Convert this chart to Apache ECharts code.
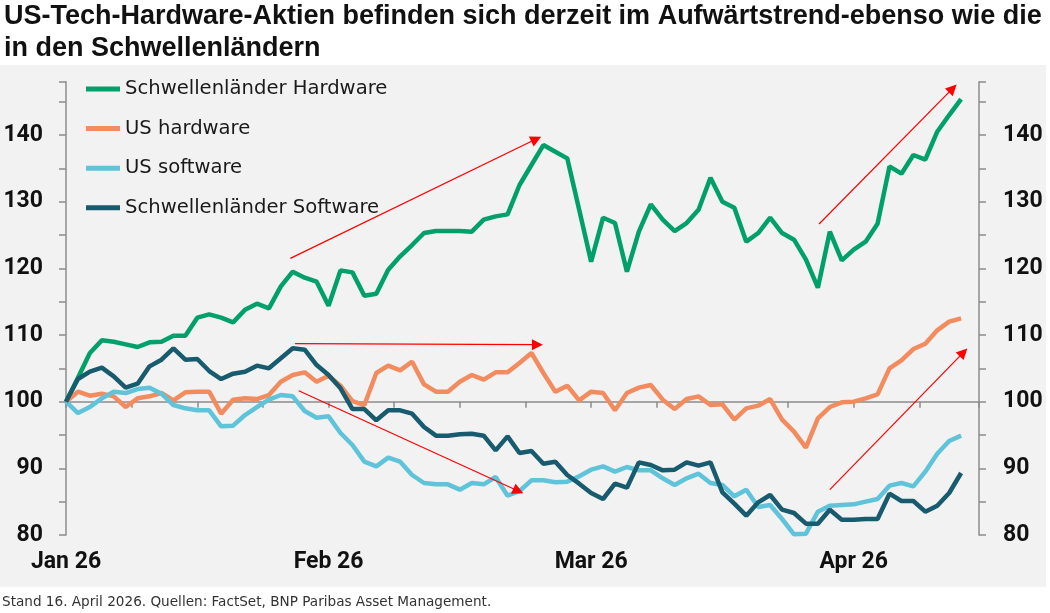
<!DOCTYPE html>
<html><head><meta charset="utf-8">
<script src="https://cdn.jsdelivr.net/npm/echarts@6/dist/echarts.min.js"></script>
<style>html,body{margin:0;padding:0;background:#fff}#c{width:1050px;height:613px}</style>
</head><body><div id="c"></div>
<script>
// ---- data (index = trading day since start of Jan 2026; 22 points per month label) ----
const monthLabels = ['Jan 26', 'Feb 26', 'Mar 26', 'Apr 26'];
const seriesNames = ['Schwellenländer Hardware', 'US hardware', 'US software', 'Schwellenländer Software'];
const emHardware = [100,103.6,107.3,109.2,109.0,108.6,108.2,108.9,109.0,109.9,109.9,112.6,113.1,112.6,111.9,113.8,114.7,114.0,117.3,119.5,
  118.6,118.0,114.4,119.7,119.4,115.9,116.2,119.8,121.8,123.5,125.3,125.6,125.6,125.6,125.5,127.3,127.8,128.1,132.5,135.5,
  138.5,137.5,136.5,128.8,121.0,127.6,126.8,119.5,125.5,129.6,127.3,125.6,126.8,128.8,133.6,130.0,129.1,124.0,125.3,127.6,
  125.3,124.3,121.3,117.1,125.5,121.2,122.8,124.0,126.7,135.3,134.2,137.0,136.3,140.5,143.0,145.4];
const usHardware = [100,101.5,100.9,101.2,100.8,99.2,100.5,100.8,101.3,100.2,101.4,101.5,101.5,98.2,100.3,100.5,100.4,101.0,103.0,104.0,
  104.4,103.0,103.9,102.4,100.1,99.5,104.3,105.4,104.7,106.0,102.6,101.5,101.5,103.0,104.0,103.3,104.4,104.4,105.8,107.3,
  104.3,101.5,102.4,100.2,101.5,101.3,98.7,101.3,102.1,102.5,100.3,98.9,100.4,100.8,99.5,99.6,97.3,99.0,99.4,100.4,
  97.3,95.5,93.1,97.5,99.2,99.9,100.0,100.5,101.1,105.0,106.2,107.9,108.7,110.7,112.0,112.5];
const usSoftware = [100,98.3,99.2,100.5,101.5,101.3,101.9,102.1,101.2,99.5,99.0,98.7,98.7,96.3,96.4,98.0,99.2,100.3,101.0,100.8,
  98.6,97.6,97.8,95.3,93.5,91.0,90.3,91.6,91.0,89.0,87.8,87.6,87.6,86.8,87.8,87.6,88.7,85.9,86.6,88.2,
  88.2,87.9,88.0,88.8,89.8,90.3,89.5,90.2,89.7,89.7,88.5,87.5,88.5,89.2,87.8,87.5,85.8,86.8,84.2,84.5,
  82.4,80.1,80.2,83.5,84.4,84.5,84.6,85.0,85.4,87.4,87.8,87.3,89.5,92.2,94.1,94.9];
const emSoftware = [100,103.4,104.5,105.1,103.8,102.1,102.7,105.3,106.3,108.0,106.3,106.4,104.6,103.4,104.2,104.5,105.4,105.0,106.5,108.0,
  107.8,105.5,104.0,102.0,98.9,98.9,97.2,98.7,98.7,98.2,96.2,94.9,94.9,95.1,95.2,94.9,92.7,94.8,92.3,92.6,
  90.7,91.0,89.0,87.7,86.3,85.4,87.7,87.1,90.9,90.5,89.7,89.8,90.9,90.4,90.9,86.4,84.7,82.9,84.9,86.0,
  83.8,83.3,81.7,81.7,83.8,82.3,82.3,82.4,82.4,86.2,85.1,85.1,83.5,84.4,86.3,89.3];
// red trend arrows, [start, end] in data units (x = day index, y = index value)
const arrows = [
  [[18.8, 121.5], [39.4, 139.4]],
  [[19.2, 108.7], [39.5, 108.55]],
  [[19.5, 101.65], [37.9, 86.6]],
  [[63.1, 126.65], [74.3, 147.0]],
  [[64.0, 86.8], [75.2, 107.4]]
];

// ---- layout / style ----
const PER_MONTH = 22, X_MAX = 76.5, Y_MIN = 80, Y_MAX = 148, BASE = 100;
const GRID = { left: 66, right: 71, top: 81.7, bottom: 78 };
const gridH = 613 - GRID.top - GRID.bottom;
const baseOffset = -(BASE - Y_MIN) / (Y_MAX - Y_MIN) * gridH;
const colors = ['#00a06b', '#f28b5e', '#5fc3da', '#185a6e'];
const axisColor = '#8c8c8c';
const labelFont = { fontFamily: 'Roboto', fontSize: 23, fontWeight: 'bold', color: '#111' };
const allSeries = [emHardware, usHardware, usSoftware, emSoftware];

const xBase = { type: 'value', min: 0, max: X_MAX, interval: PER_MONTH / 4, position: 'bottom', splitLine: { show: false } };
const yBase = {
  type: 'value', min: Y_MIN, max: Y_MAX, interval: 5, splitLine: { show: false },
  axisLine: { show: true, onZero: false, lineStyle: { color: axisColor, width: 1.5 } },
  axisTick: { show: true, length: 7, lineStyle: { color: axisColor, width: 1.5 } }
};
const yFmt = v => (Math.abs(v % 10) < 1e-6 ? String(v) : '');

const chart = echarts.init(document.getElementById('c'));
chart.setOption({
  animation: false,
  backgroundColor: '#ffffff',
  title: {
    text: 'US-Tech-Hardware-Aktien befinden sich derzeit im Aufwärtstrend-ebenso wie die\nin den Schwellenländern',
    left: 4, top: 1, padding: 0,
    textStyle: { fontFamily: 'Liberation Sans', fontWeight: 'bold', fontSize: 27, lineHeight: 32, color: '#111' }
  },
  graphic: [
    { type: 'rect', z: -10, silent: true, shape: { x: 0, y: 65, width: 1046, height: 522 }, style: { fill: '#f2f2f2' } },
    { type: 'text', z: 10, silent: true, style: { x: 2, y: 602, text: 'Stand 16. April 2026. Quellen: FactSet, BNP Paribas Asset Management.', font: '13.6px "DejaVu Sans"', fill: '#333', verticalAlign: 'middle' } }
  ],
  legend: {
    data: seriesNames.map((n, s) => ({ name: n, icon: 'rect', itemStyle: { color: colors[s] } })),
    orient: 'vertical', left: 86, top: 79, padding: 0,
    itemWidth: 34, itemHeight: 5, itemGap: 19.6, itemTextGap: 2,
    textStyle: { fontFamily: 'DejaVu Sans', fontSize: 19.6, color: '#1a1a1a', lineHeight: 20 }
  },
  grid: GRID,
  xAxis: [
    Object.assign({}, xBase, {
      axisLine: { show: false, onZero: false }, axisTick: { show: false },
      axisLabel: Object.assign({}, labelFont, {
        margin: 16, showMaxLabel: false,
        formatter: v => { const k = Math.round(v / PER_MONTH); return Math.abs(v - k * PER_MONTH) < 1e-6 ? (monthLabels[k] || '') : ''; }
      })
    }),
    Object.assign({}, xBase, {
      offset: baseOffset,
      axisLine: { show: true, onZero: false, lineStyle: { color: axisColor, width: 1.5 } },
      axisTick: { show: true, length: 6, lineStyle: { color: axisColor, width: 1.5 } },
      axisLabel: { show: false }
    })
  ],
  yAxis: [
    Object.assign({}, yBase, { position: 'left', axisLabel: Object.assign({}, labelFont, { margin: 23, formatter: yFmt }) }),
    Object.assign({}, yBase, { position: 'right', axisLabel: Object.assign({}, labelFont, { margin: 24, formatter: yFmt }) })
  ],
  series: allSeries.map((vals, s) => ({
    name: seriesNames[s], type: 'line', xAxisIndex: 0, yAxisIndex: 0,
    symbol: 'none', showSymbol: false, color: colors[s],
    lineStyle: { width: 4.5, color: colors[s] },
    emphasis: { disabled: true },
    data: vals.map((v, i) => [i, v]),
    markLine: s === allSeries.length - 1 ? {
      silent: true, symbol: ['none', 'triangle'], symbolSize: 11, precision: 4,
      label: { show: false }, emphasis: { disabled: true }, animation: false,
      lineStyle: { color: '#ff0000', width: 1.2, type: 'solid' },
      itemStyle: { color: '#ff0000' },
      data: arrows.map(a => [{ coord: a[0] }, { coord: a[1] }])
    } : undefined
  }))
});
</script></body></html>
